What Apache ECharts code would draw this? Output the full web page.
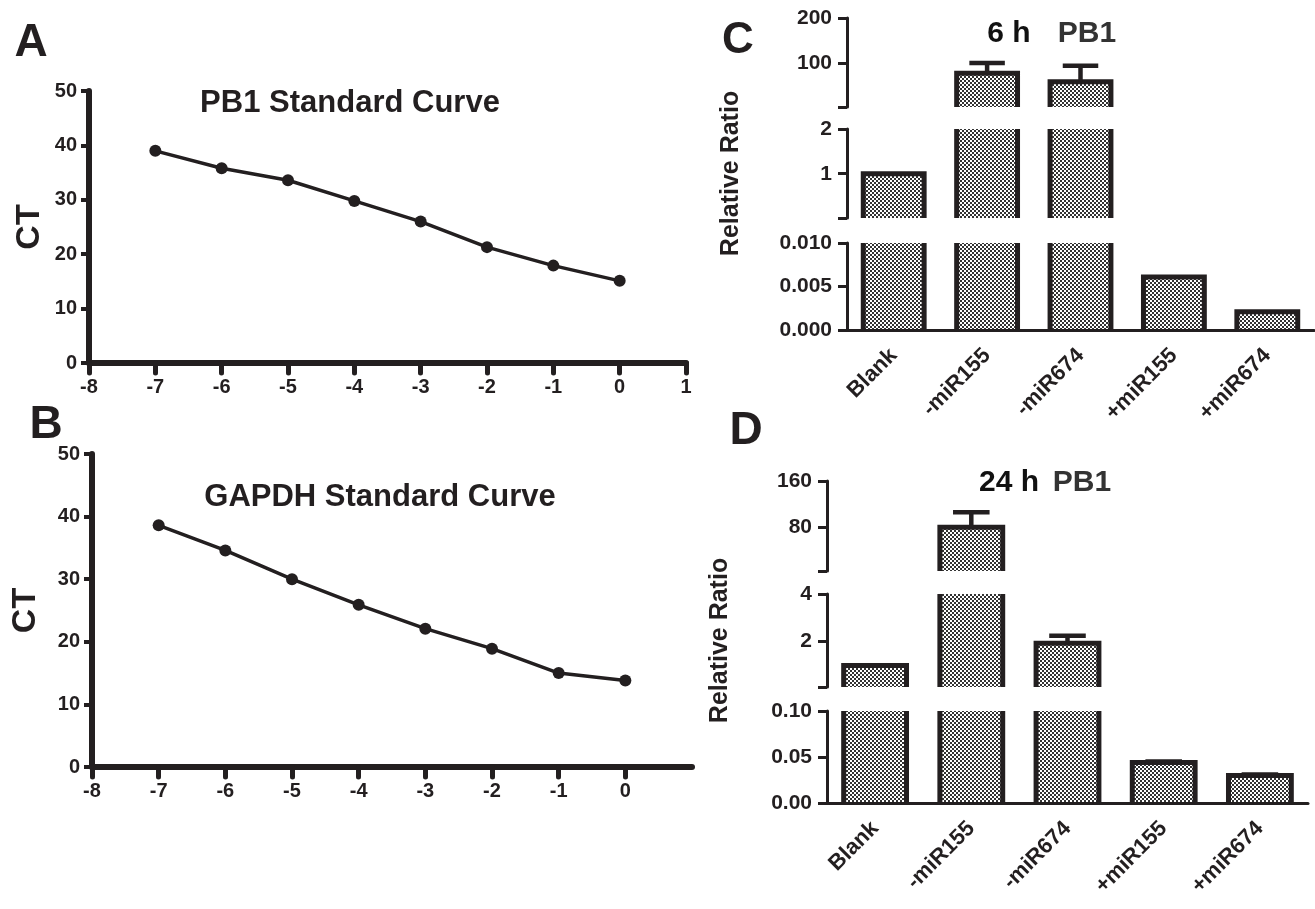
<!DOCTYPE html>
<html><head><meta charset="utf-8">
<script src="https://cdn.jsdelivr.net/npm/echarts@6.0.0/dist/echarts.min.js"></script>
<style>html,body{margin:0;padding:0;background:#fff}#c{width:1315px;height:909px}</style>
</head><body><div id="c"></div>
<script>
// ---------- data ----------
const logDilution = [-7, -6, -5, -4, -3, -2, -1, 0];
const pb1CT = [39.0, 35.8, 33.6, 29.8, 26.0, 21.3, 17.9, 15.1];
const gapdhCT = [38.6, 34.6, 30.0, 25.9, 22.1, 18.9, 15.0, 13.8];

const groups = ['Blank', '-miR155', '-miR674', '+miR155', '+miR674'];
const ratio6h = [1, 77, 58, 0.0061, 0.0021];
const errTop6h = [1, 100, 94, 0.0061, 0.0021];
const ratio24h = [1, 80, 1.93, 0.044, 0.030];
const errTop24h = [1, 106, 2.25, 0.045, 0.031];

// broken-axis segments (ranges, ticks, labels)
const c6Top = {min: 2, max: 200, ticks: [2, 100, 200], labels: [100, 200]};
const c6Mid = {min: 0.01, max: 2, ticks: [0.01, 1, 2], labels: [1, 2]};
const c6Bot = {min: 0, max: 0.01, ticks: [0, 0.005, 0.01], labels: [0, 0.005, 0.01], dec: 3};
const d24Top = {min: 4, max: 160, ticks: [4, 80, 160], labels: [80, 160]};
const d24Mid = {min: 0.1, max: 4, ticks: [0.1, 2, 4], labels: [2, 4]};
const d24Bot = {min: 0, max: 0.1, ticks: [0, 0.05, 0.1], labels: [0, 0.05, 0.1], dec: 2};

// ---------- style ----------
const INK = '#231f20';
const FONT = "'Liberation Sans', Arial, Helvetica, sans-serif";

const pc = document.createElement('canvas');
pc.width = 4; pc.height = 4;
const pctx = pc.getContext('2d');
pctx.fillStyle = '#ffffff'; pctx.fillRect(0, 0, 4, 4);
pctx.fillStyle = '#333333'; pctx.fillRect(0, 0, 2, 2); pctx.fillRect(2, 2, 2, 2);
const pattern = {image: pc, repeat: 'repeat'};

function barRender(params, api) {
  const cs = params.coordSys;
  const i = api.value(0), v = api.value(1), e = api.value(2);
  const c1 = api.coord([i, v]);
  if (c1[1] >= cs.y + cs.height - 0.5) return {type: 'group', children: []};
  const clampY = y => Math.max(cs.y - 20, Math.min(cs.y + cs.height + 20, y));
  const c0 = api.coord([i, 0]);
  const band = api.size([1, 0])[0];
  const W = band * 0.705;
  const lw = 5;
  const yb = clampY(c0[1]), yt = clampY(c1[1]);
  const xl = c1[0] - W / 2 + lw / 2, xr = c1[0] + W / 2 - lw / 2;
  const children = [
    {type: 'rect', shape: {x: xl, y: yt, width: xr - xl, height: yb - yt}, style: {fill: pattern}},
    {type: 'polyline', shape: {points: [[xl, yb], [xl, yt], [xr, yt], [xr, yb]]},
     style: {stroke: INK, lineWidth: lw, fill: null, lineJoin: 'miter'}}
  ];
  if (e > v && c1[1] > cs.y) {
    const ye = clampY(api.coord([i, e])[1]);
    const half = band * 0.19;
    children.push({type: 'line', shape: {x1: c1[0], y1: yt, x2: c1[0], y2: ye}, style: {stroke: INK, lineWidth: 4.5}});
    children.push({type: 'line', shape: {x1: c1[0] - half, y1: ye, x2: c1[0] + half, y2: ye}, style: {stroke: INK, lineWidth: 4.5}});
  }
  return {type: 'group', children};
}

const grids = [
  {left: 89, top: 91, width: 597, height: 272},
  {left: 92, top: 454, width: 600, height: 313},
  {left: 847, top: 18, width: 467, height: 89},
  {left: 847, top: 129, width: 467, height: 89},
  {left: 847, top: 243, width: 467, height: 87},
  {left: 827, top: 481, width: 481, height: 90},
  {left: 827, top: 594, width: 481, height: 93},
  {left: 827, top: 711, width: 481, height: 92}
].map(g => Object.assign({outerBoundsMode: 'none', containLabel: false}, g));

function stdX(gridIndex, showMax) {
  return {
    gridIndex, type: 'value', min: -8, max: 1, interval: 1,
    axisLine: {onZero: false, lineStyle: {color: INK, width: 6}},
    axisTick: {length: 10, lineStyle: {color: INK, width: 5, cap: 'round'}},
    axisLabel: {margin: 14, color: INK, fontSize: 20, fontWeight: 'bold', fontFamily: FONT, showMaxLabel: showMax},
    splitLine: {show: false}
  };
}
function stdY(gridIndex, gap) {
  return {
    gridIndex, type: 'value', min: 0, max: 50, interval: 10,
    name: 'CT', nameLocation: 'middle', nameGap: gap,
    nameTextStyle: {fontSize: 34, fontWeight: 'bold', color: INK, fontFamily: FONT},
    axisLine: {onZero: false, lineStyle: {color: INK, width: 6}},
    axisTick: {length: 8, lineStyle: {color: INK, width: 4}},
    axisLabel: {margin: 12, color: INK, fontSize: 20, fontWeight: 'bold', fontFamily: FONT},
    splitLine: {show: false}
  };
}
function segY(gridIndex, seg, name, gap) {
  const ax = {
    gridIndex, type: 'value', min: seg.min, max: seg.max,
    axisLine: {show: true, onZero: false, lineStyle: {color: INK, width: 3}},
    axisTick: {show: true, length: 9, lineStyle: {color: INK, width: 3}, customValues: seg.ticks},
    axisLabel: {margin: 15, color: INK, fontSize: 21, fontWeight: 'bold', fontFamily: FONT,
      customValues: seg.labels,
      formatter: v => seg.dec ? Number(v).toFixed(seg.dec) : String(v)},
    splitLine: {show: false}
  };
  if (name) {
    ax.name = name; ax.nameLocation = 'middle'; ax.nameGap = gap;
    ax.nameTextStyle = {fontSize: 25, fontWeight: 'bold', color: INK, fontFamily: FONT};
  }
  return ax;
}
function hiddenX(gridIndex) {
  return {gridIndex, type: 'category', data: groups, show: false};
}
function catX(gridIndex) {
  return {
    gridIndex, type: 'category', data: groups, z: 5,
    axisLine: {onZero: false, lineStyle: {color: INK, width: 3}},
    axisTick: {alignWithLabel: true, length: 10, lineStyle: {color: INK, width: 3}},
    axisLabel: {rotate: 45, margin: 22, interval: 0, color: INK, fontSize: 22, fontWeight: 'bold', fontFamily: FONT}
  };
}

const xAxis = [stdX(0, true), stdX(1, false), hiddenX(2), hiddenX(3), catX(4), hiddenX(5), hiddenX(6), catX(7)];
const yAxis = [
  stdY(0, 42), stdY(1, 49),
  segY(2, c6Top), segY(3, c6Mid, 'Relative Ratio', 103), segY(4, c6Bot),
  segY(5, d24Top), segY(6, d24Mid, 'Relative Ratio', 94), segY(7, d24Bot)
];

function lineSeries(idx, vals) {
  return {
    type: 'line', xAxisIndex: idx, yAxisIndex: idx,
    data: logDilution.map((x, i) => [x, vals[i]]),
    symbol: 'circle', symbolSize: 12, showSymbol: true,
    lineStyle: {color: INK, width: 3.5}, itemStyle: {color: INK}
  };
}
function barSeries(idx, vals, errs) {
  return {
    type: 'custom', xAxisIndex: idx, yAxisIndex: idx, clip: true, z: 2,
    renderItem: barRender, encode: {x: 0, y: 1},
    data: groups.map((g, i) => [i, vals[i], errs[i]])
  };
}

const series = [
  lineSeries(0, pb1CT), lineSeries(1, gapdhCT),
  barSeries(2, ratio6h, errTop6h), barSeries(3, ratio6h, errTop6h), barSeries(4, ratio6h, errTop6h),
  barSeries(5, ratio24h, errTop24h), barSeries(6, ratio24h, errTop24h), barSeries(7, ratio24h, errTop24h)
];

function txt(text, x, y, size, color) {
  return {
    type: 'text', x, y, z: 10,
    style: {text, font: 'bold ' + size + 'px ' + FONT, fill: color || INK,
      align: 'center', verticalAlign: 'middle', textAlign: 'center', textVerticalAlign: 'middle'}
  };
}

const graphic = [
  txt('A', 31, 43, 46), txt('B', 46, 425, 46), txt('C', 738, 41, 44), txt('D', 746, 431, 46),
  txt('PB1 Standard Curve', 350, 103, 31), txt('GAPDH Standard Curve', 380, 497, 31),
  txt('6 h', 1009, 34, 30, '#111'), txt('PB1', 1087, 34, 30, '#333'),
  txt('24 h', 1009, 483, 30, '#111'), txt('PB1', 1082, 483, 30, '#333')
];

const chart = echarts.init(document.getElementById('c'), null, {renderer: 'canvas'});
chart.setOption({
  animation: false,
  backgroundColor: '#ffffff',
  textStyle: {fontFamily: FONT},
  grid: grids, xAxis, yAxis, series, graphic
});
</script></body></html>
